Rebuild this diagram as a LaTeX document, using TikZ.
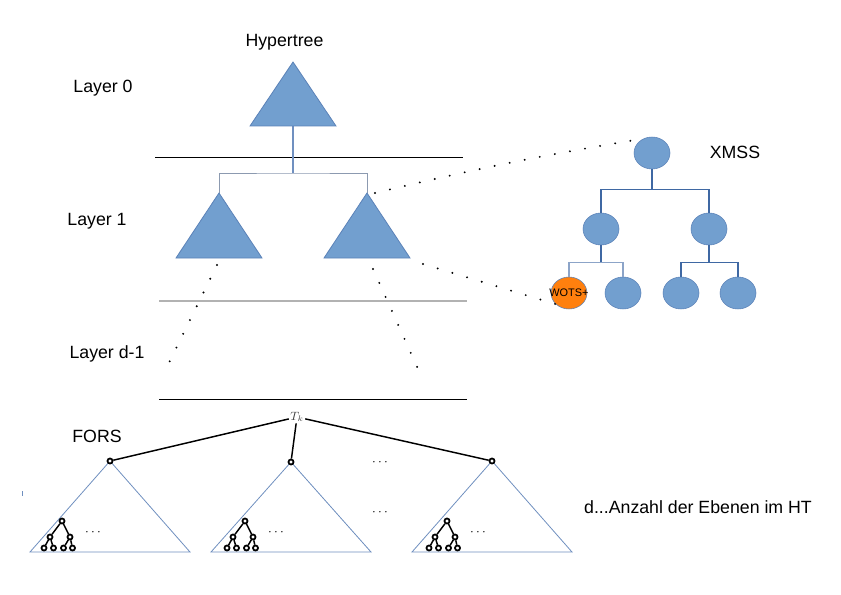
\documentclass[tikz,border=0pt]{standalone}
\usepackage{fontspec}
\setmainfont{Liberation Sans}
\usetikzlibrary{shapes.geometric}
\definecolor{treeblue}{HTML}{729FCF}
\definecolor{edgeblue}{HTML}{5B82B8}
\definecolor{linkblue}{HTML}{3F68A3}
\definecolor{forsblue}{HTML}{6F8FBF}
\definecolor{stemblue}{HTML}{7090C0}
\definecolor{branchgray}{HTML}{8C9AB0}
\definecolor{wotsorange}{HTML}{FF800E}
\begin{document}
\begin{tikzpicture}[x=0.75pt,y=-0.75pt,
    label/.style = {font=\fontsize{13.3}{16}\selectfont},
    xnode/.style = {draw=edgeblue, fill=treeblue, ellipse, minimum width=27pt, minimum height=24pt, inner sep=0pt},
    tri/.style = {draw=edgeblue, fill=treeblue, line width=0.6pt},
    link/.style = {draw=linkblue, line width=0.9pt},
    dotline/.style = {line width=1.6pt, line cap=round, dash pattern=on 0pt off 11.5pt},
    knot/.style = {draw, circle, line width=1.3pt, minimum size=3.8pt, inner sep=0pt, fill=white},
    dots/.style = {font=\fontsize{10}{11}\selectfont, inner sep=0pt}]
    \useasboundingbox (0,0) rectangle (841,595);

    % labels
    \node[label] (ht) at (284.5,42) {Hypertree};
    \node[label] (l0) at (103,88) {Layer 0};
    \node[label] (l1) at (97,221) {Layer 1};
    \node[label] (ld) at (107,354) {Layer d-1};
    \node[label] (fors) at (97,436) {FORS};
    \node[label] (xmss) at (735,152) {XMSS};
    \node[label] (note) at (698,507) {d...Anzahl der Ebenen im HT};

    % layer separators
    \draw[line width=0.75pt] (155,158) -- (463,158);
    \draw[black!30, line width=1.5pt] (159,301) -- (467,301);
    \draw[line width=0.75pt] (159,399) -- (467,399);

    % hypertree
    \coordinate (h0) at (293,62);
    \coordinate (h1) at (219,193);
    \coordinate (h2) at (367,193);
    \coordinate (h0b) at (293,126);
    \coordinate (hb) at (293,173);
    \draw[branchgray, line width=0.6pt] (h1) |- (hb) -| (h2);
    \draw[stemblue, line width=1.5pt] (h0b) -- (hb);
    \draw[tri] (h0) -- ++(43,64) -- ++(-86,0) -- cycle;
    \draw[tri] (h1) -- ++(43,65) -- ++(-86,0) -- cycle;
    \draw[tri] (h2) -- ++(43,65) -- ++(-86,0) -- cycle;

    % xmss tree
    \node[xnode] (x0) at (652,153) {};
    \node[xnode] (x1) at (601,229) {};
    \node[xnode] (x2) at (709,229) {};
    \node[xnode, fill=wotsorange] (x3) at (569,293) {\makebox[0pt]{\fontsize{8.2}{9}\selectfont WOTS+}};
    \node[xnode] (x4) at (623,293) {};
    \node[xnode] (x5) at (681,293) {};
    \node[xnode] (x6) at (738,293) {};

    \draw[link] (x0.south) -- ++(0,20) coordinate (b0);
    \draw[link] (x1.north) |- (b0) -| (x2.north);
    \draw[link] (x1.south) -- ++(0,17) coordinate (b1);
    \draw[link, draw=linkblue!60] (x3.north) |- (b1) -| (x4.north);
    \draw[link] (x2.south) -- ++(0,17) coordinate (b2);
    \draw[link] (x5.north) |- (b2) -| (x6.north);

    % dotted links
    \coordinate (d0) at (375,193);
    \coordinate (d1) at (423,264);
    \coordinate (d2) at (217,265);
    \coordinate (d3) at (163,375);
    \coordinate (d4) at (373,269);
    \coordinate (d5) at (423,380);
    \draw[dotline] (d0) to[bend left=2] (x0.120);
    \draw[dotline] (d1) -- (x3.220);
    \draw[dotline] (d2) -- (d3);
    \draw[dotline] (d4) -- (d5);

    % fors
    \node[font=\fontsize{9}{10}\selectfont, text=black!75, inner sep=1pt] (Tk) at (297,417) {$T_{k}$};
    \foreach \i/\rx/\ry/\sx in {1/110/461/62, 2/291/462/245, 3/492/461/447} {
        \draw[forsblue, line width=0.6pt] (\rx,\ry) -- (\rx-80,552) -- (\rx+80,552) -- cycle;
        \node[knot] (r\i) at (\rx,\ry) {};
        \draw[line width=1.1pt] (Tk) -- (r\i);
        \node[knot] (s\i) at (\sx,521) {};
        \node[knot] (s\i-a) at (\sx-12,537) {};
        \node[knot] (s\i-b) at (\sx+8,537) {};
        \node[knot] (s\i-aa) at (\sx-18,548) {};
        \node[knot] (s\i-ab) at (\sx-8.5,548) {};
        \node[knot] (s\i-ba) at (\sx+1.5,548) {};
        \node[knot] (s\i-bb) at (\sx+10.5,548) {};
        \draw[line width=1.1pt] (s\i) -- (s\i-a);
        \draw[line width=1.1pt] (s\i) -- (s\i-b);
        \draw[line width=1.1pt] (s\i-a) -- (s\i-aa);
        \draw[line width=1.1pt] (s\i-a) -- (s\i-ab);
        \draw[line width=1.1pt] (s\i-b) -- (s\i-ba);
        \draw[line width=1.1pt] (s\i-b) -- (s\i-bb);
        \node[dots] (m\i) at (\sx+31,533) {$\cdots$};
    }
    \node[dots] (gap1) at (380,463) {$\cdots$};
    \node[dots] (gap2) at (380,513) {$\cdots$};
    \draw[forsblue] (22,491) -- (22,496);
\end{tikzpicture}
\end{document}
